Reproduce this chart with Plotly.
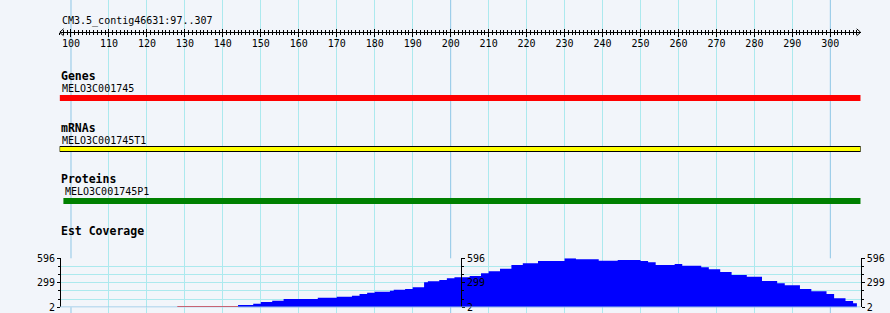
import plotly.graph_objects as go

W, H = 890, 313

# ---------------- data ----------------
region_name = "CM3.5_contig46631"
region_start = 97
region_end = 307
ruler_ticks = list(range(100, 301, 10))

track_titles = ["Genes", "mRNAs", "Proteins", "Est Coverage"]
gene_name = "MELO3C001745"
gene_start, gene_end = 97, 307
mrna_name = "MELO3C001745T1"
mrna_start, mrna_end = 97, 307
protein_name = "MELO3C001745P1"
protein_start, protein_end = 98, 307

# EST coverage as step bins: start position of each bin, coverage value
cov_start = [144, 148, 150, 153, 156, 165, 170, 174, 176, 178,
             180, 184, 185, 188, 190, 193, 194, 197, 199, 201,
             205, 208, 210, 213, 216, 219, 223, 230, 233, 239,
             244, 250, 252, 254, 259, 261, 266, 268, 271, 274,
             278, 282, 286, 288, 292, 295, 299, 301, 304, 306]
cov_value = [30, 46, 66, 82, 103, 118, 130, 143, 163, 179,
             191, 203, 215, 224, 244, 305, 317, 333, 353, 366,
             381, 414, 438, 470, 515, 535, 563, 596, 584, 567,
             575, 563, 547, 515, 527, 506, 487, 463, 430, 393,
             373, 321, 293, 269, 224, 196, 163, 111, 78, 50]
cov_last_end = 307
zero_cov_start, zero_cov_end = 128, 144
cov_min, cov_max = 2, 596
cov_tick_text = ["2", "299", "596"]

# ---------------- styles ----------------
BG = "#F2F5FA"
GRID = "#ACE9EE"
GRID_DARK = "#8FC6E6"
MONO = "DejaVu Sans Mono"

def px(x):
    return x / W

def py(y):
    return 1 - y / H

x0_px, x1_px = 59.6, 860.7
xrange = [region_start, region_end + 1]

step = (cov_max - cov_min) / 6
cov_all_ticks = [cov_min + step * i for i in range(7)]
cov_major = [cov_min, (cov_min + cov_max) / 2, cov_max]
cov_minor = [v for v in cov_all_ticks if v not in cov_major]

fig = go.Figure()

# coverage as a filled step outline
fig.add_trace(go.Scatter(x=cov_start + [cov_last_end], y=cov_value + [cov_value[-1]],
                         mode="lines", line=dict(shape="hv", width=0, color="#0000FF"),
                         fill="tozeroy", fillcolor="#0000FF",
                         xaxis="x", yaxis="y2", hoverinfo="skip", showlegend=False))
# zero-coverage region (red line)
fig.add_trace(go.Scatter(x=[zero_cov_start, zero_cov_end], y=[cov_min + 10, cov_min + 10],
                         mode="lines", line=dict(color="#FF0000", width=1.2),
                         xaxis="x", yaxis="y2", hoverinfo="skip", showlegend=False))
# dummy traces so all axes are drawn
for xa, ya in [("x", "y"), ("x2", "y"), ("x3", "y"), ("x", "y3"), ("x", "y4")]:
    fig.add_trace(go.Scatter(x=[None], y=[None], xaxis=xa, yaxis=ya,
                             hoverinfo="skip", showlegend=False))

cov_dom = [py(307.3), py(258.3)]
xdom = [px(x0_px), px(x1_px)]

grid_vals = [region_start] + [t for t in ruler_ticks if t % 100 != 0]
dark_vals = [t for t in ruler_ticks if t % 100 == 0]

common_y = dict(range=[cov_min, cov_max], tickvals=cov_major, ticktext=cov_tick_text,
                showline=True, linecolor="black", linewidth=1,
                ticks="outside", ticklen=3, tickcolor="black", tickwidth=1,
                tickfont=dict(family=MONO, size=10, color="black"),
                zeroline=False, automargin=False, fixedrange=True,
                minor=dict(tickvals=cov_minor, ticks="outside", ticklen=2,
                           tickcolor="black", showgrid=False))

fig.update_layout(
    width=W, height=H, margin=dict(l=0, r=0, t=0, b=0),
    paper_bgcolor=BG, plot_bgcolor=BG, showlegend=False,
    xaxis=dict(domain=xdom, range=xrange, showgrid=True, gridcolor=GRID, gridwidth=1,
               tickmode="array", tickvals=grid_vals, showticklabels=False, ticks="",
               zeroline=False, showline=False, anchor="y", automargin=False),
    yaxis=dict(domain=[0, 1], range=[H, 0], visible=True, showgrid=False,
               showticklabels=False, ticks="", zeroline=False, showline=False,
               anchor="x", automargin=False),
    xaxis2=dict(overlaying="x", anchor="free", position=py(32.3), side="bottom",
                range=xrange, showgrid=False, zeroline=False,
                showline=True, linecolor="black", linewidth=1,
                tickmode="array", tickvals=ruler_ticks, ticktext=[str(t) for t in ruler_ticks],
                ticks="outside", ticklen=4, tickcolor="black", tickwidth=1,
                ticklabelstandoff=-2,
                tickfont=dict(family=MONO, size=10, color="black"),
                minor=dict(tickvals=list(range(region_start, region_end + 1)),
                           ticks="outside", ticklen=2, tickcolor="black"),
                automargin=False),
    xaxis3=dict(overlaying="x", anchor="free", position=py(32.3), side="bottom",
                range=xrange, showgrid=False, zeroline=False, showline=False,
                tickmode="array", tickvals=ruler_ticks, showticklabels=False,
                ticks="inside", ticklen=3, tickcolor="black", tickwidth=1,
                minor=dict(tickvals=list(range(region_start, region_end + 1)),
                           ticks="inside", ticklen=2, tickcolor="black"),
                automargin=False),
    yaxis2=dict(domain=cov_dom, anchor="free", position=px(60), side="left",
                showgrid=True, gridcolor=GRID, gridwidth=1,
                **{k: v for k, v in common_y.items() if k != "minor"},
                minor=dict(tickvals=cov_minor, ticks="outside", ticklen=2,
                           tickcolor="black", showgrid=True, gridcolor=GRID)),
    yaxis3=dict(overlaying="y2", anchor="free", position=px(461), side="right",
                showgrid=False, **common_y),
    yaxis4=dict(overlaying="y2", anchor="free", position=px(860.7), side="right",
                showgrid=False, **common_y),
)

shapes = []
# darker grid lines every 100 bp
for v in dark_vals:
    shapes.append(dict(type="line", xref="x", yref="y", x0=v, x1=v, y0=0, y1=H,
                       line=dict(color=GRID_DARK, width=1), layer="between"))
# coverage baseline
shapes.append(dict(type="line", xref="x", yref="y2", x0=xrange[0], x1=xrange[1],
                   y0=cov_min, y1=cov_min, line=dict(color=GRID_DARK, width=1.5), layer="above"))
# features
shapes.append(dict(type="rect", xref="x", yref="y", x0=gene_start, x1=gene_end + 1,
                   y0=95, y1=101, fillcolor="#FF0000", line=dict(width=0), layer="above"))
shapes.append(dict(type="rect", xref="x", yref="y", x0=mrna_start, x1=mrna_end + 1,
                   y0=146.5, y1=151.5, fillcolor="#FFFF00",
                   line=dict(color="black", width=1), layer="above"))
shapes.append(dict(type="rect", xref="x", yref="y", x0=protein_start, x1=protein_end + 1,
                   y0=198, y1=204, fillcolor="#008000", line=dict(width=0), layer="above"))
# ruler arrows
for anchor, path in [(xrange[0], "M 4,-3.5 L 0,0 L 4,3.5"), (xrange[1], "M -4,-3.5 L 0,0 L -4,3.5")]:
    shapes.append(dict(type="path", xref="x", yref="y", xsizemode="pixel", ysizemode="pixel",
                       xanchor=anchor, yanchor=32.3, path=path,
                       line=dict(color="black", width=1), layer="above"))
fig.update_layout(shapes=shapes)

ann = []
def text(x, y, s, bold=False, size=10):
    ann.append(dict(x=px(x), y=y, xref="paper", yref="y", text=f"<b>{s}</b>" if bold else s,
                    showarrow=False, xanchor="left", yanchor="middle",
                    font=dict(family=MONO, size=size, color="black")))

text(60, 20.5, f"{region_name}:{region_start}..{region_end}")
text(59, 75.5, track_titles[0], bold=True, size=11.5)
text(60, 88.5, gene_name)
text(59, 127.5, track_titles[1], bold=True, size=11.5)
text(60, 140, mrna_name)
text(59, 178.5, track_titles[2], bold=True, size=11.5)
text(63, 191.5, protein_name)
text(59, 231, track_titles[3], bold=True, size=11.5)
fig.update_layout(annotations=ann)

fig.write_html("out.html")
